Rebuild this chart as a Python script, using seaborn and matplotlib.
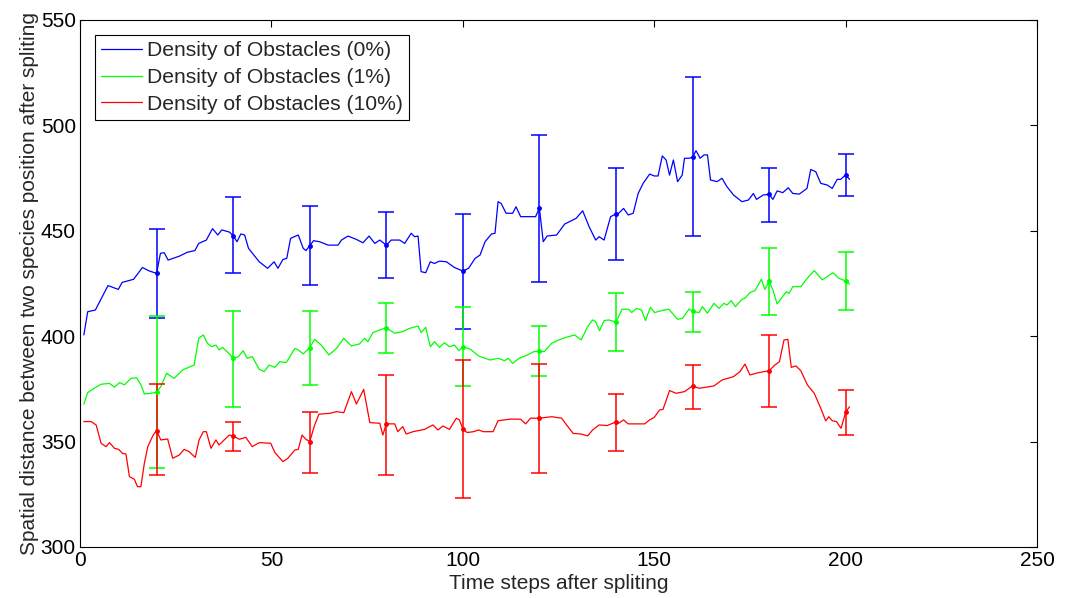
import pandas as pd
import matplotlib
matplotlib.use("Agg")
import matplotlib.pyplot as plt
import seaborn as sns

# --- curves (time step, distance) ---
x_0 = [1, 2, 4, 7.3, 10, 11, 14, 16.3, 18, 20,
       21, 22, 23, 26, 28, 30, 31, 33, 34.6, 36,
       37, 39, 40, 41, 42, 43, 44, 46.8, 49, 50.7,
       51.7, 53, 54, 55, 56, 57, 58.3, 59, 60, 61,
       62.6, 64.8, 67.4, 68.3, 70, 72.2, 73.9, 75.5, 77, 78.3,
       80, 81.3, 83.5, 84.8, 86.5, 87.4, 88.3, 89.1, 90.3, 91.5,
       92.6, 93.9, 95.7, 97.8, 100, 101.5, 103.2, 104.5, 105.8, 107.5,
       108.4, 109.2, 110, 111.3, 113, 113.9, 115.1, 119, 120, 121,
       122, 124.5, 126.6, 129.6, 131.3, 133, 134.7, 135.6, 136.9, 138.6,
       140, 140.7, 142, 143.2, 144.5, 145.8, 147.1, 148.8, 150, 151,
       152.1, 153.1, 154, 155, 156.1, 157.3, 157.9, 159.1, 160, 160.9,
       162, 163, 163.9, 164.7, 166.4, 167.7, 169, 170.7, 172.9, 174.6,
       175.9, 176.7, 178.5, 180, 181, 182.1, 183.6, 185, 186.2, 187.9,
       189.9, 190.9, 192.2, 193.5, 195.2, 196.5, 197.8, 198.7, 200, 201]
y_0 = [400.6, 411.6, 412.4, 424.0, 422.2, 425.5, 427.0, 432.6, 431.0, 429.8,
       439.3, 439.6, 436.1, 438.0, 439.8, 440.6, 444.0, 445.6, 451.0, 448.0,
       450.4, 449.4, 447.7, 444.8, 448.5, 448.0, 441.7, 435.3, 432.2, 435.3,
       432.2, 436.4, 436.9, 446.4, 447.2, 448.0, 441.7, 440.6, 442.9, 445.3,
       444.8, 443.2, 443.2, 445.6, 447.5, 445.9, 444.3, 447.5, 444.0, 445.6,
       443.2, 445.6, 445.6, 444.0, 448.8, 447.2, 447.5, 430.6, 430.1, 435.3,
       434.5, 435.6, 435.3, 432.6, 430.9, 432.2, 436.9, 438.5, 444.8, 448.5,
       448.8, 463.8, 463.0, 458.3, 458.3, 461.4, 456.7, 456.7, 460.8, 444.8,
       447.5, 448.0, 453.2, 455.9, 459.5, 451.9, 445.6, 447.2, 445.6, 456.7,
       458.0, 458.3, 460.6, 457.5, 458.3, 467.7, 472.5, 476.9, 476.0, 476.0,
       485.5, 483.6, 476.4, 483.6, 473.3, 476.4, 484.4, 484.4, 484.8, 488.0,
       484.4, 486.0, 486.0, 474.1, 473.3, 474.9, 470.9, 467.0, 463.8, 464.6,
       467.7, 464.9, 467.0, 467.3, 464.9, 468.9, 468.1, 470.4, 467.7, 467.4,
       470.1, 479.1, 478.0, 472.5, 471.7, 470.1, 474.4, 474.4, 476.5, 474.4]

x_1 = [1, 2, 3.7, 5.5, 7.7, 9, 10.3, 11.6, 13.3, 14.8,
       15.9, 16.8, 18.5, 20, 21.1, 22.6, 24.6, 26.8, 29.8, 31,
       32.2, 33.3, 34.4, 35.5, 36.3, 37.2, 39, 40, 41.4, 42.6,
       43.7, 45, 46.8, 48.1, 49.4, 50.9, 52.2, 53.9, 56.1, 57,
       58.3, 60, 61.3, 63, 65, 67, 68.9, 70.9, 73, 74.3,
       75.2, 76.5, 78.3, 80, 82.2, 84.3, 86.1, 88.3, 89.1, 90.3,
       91.5, 92.6, 93.9, 95.2, 96.5, 97.8, 99, 100, 102, 104.1,
       107.1, 109.2, 110.9, 111.9, 113, 114.7, 116.9, 118.6, 120, 121.3,
       123.2, 125.4, 127.1, 129.2, 130.9, 132.6, 133.9, 134.7, 135.7, 136.9,
       138.1, 140, 141.6, 143.3, 144.1, 145.4, 146.7, 147.7, 149, 150.1,
       151.8, 153.8, 156.1, 157.4, 159.1, 160, 161.7, 162.6, 163.9, 165.6,
       166.9, 168.2, 169, 170.1, 171.2, 172.9, 173.7, 175, 176.3, 178,
       178.9, 180, 181, 182.1, 184.5, 185.2, 186.2, 188.3, 190, 191.8,
       193.9, 196.7, 198.2, 200, 201]
y_1 = [367.8, 373.2, 375.3, 377.2, 377.6, 375.8, 378.0, 376.9, 380.0, 380.3,
       376.9, 372.6, 372.9, 373.4, 376.1, 382.4, 380.0, 384.0, 386.3, 399.0,
       400.6, 396.6, 395.0, 395.8, 393.5, 394.7, 391.6, 389.5, 390.3, 393.1,
       389.5, 390.3, 384.3, 383.2, 386.3, 385.2, 387.9, 387.5, 394.2, 393.5,
       391.6, 394.6, 398.5, 395.8, 391.1, 394.2, 399.0, 395.4, 396.3, 399.0,
       397.4, 401.7, 403.0, 403.9, 401.4, 402.2, 403.7, 404.8, 401.7, 404.2,
       395.0, 397.4, 394.7, 396.9, 395.0, 395.8, 393.1, 395.0, 393.8, 390.6,
       388.7, 389.5, 388.4, 389.5, 387.1, 389.5, 391.1, 392.7, 392.8, 392.7,
       396.6, 398.5, 399.5, 400.6, 398.2, 404.5, 407.7, 406.9, 402.6, 407.4,
       407.7, 406.7, 412.8, 412.8, 411.2, 413.2, 412.4, 407.4, 413.7, 411.2,
       412.1, 412.8, 408.0, 408.5, 412.9, 411.8, 411.2, 414.0, 410.9, 415.6,
       413.2, 415.6, 414.8, 416.9, 414.0, 417.5, 418.0, 420.7, 421.6, 427.0,
       422.2, 426.0, 421.9, 415.3, 421.1, 420.3, 423.5, 423.5, 427.5, 431.1,
       426.7, 430.1, 427.5, 426.2, 424.7]

x_10 = [1, 2.9, 4.2, 5.5, 6.8, 7.7, 9, 10.1, 11.1, 12,
        12.9, 14.2, 15, 15.9, 16.8, 17.7, 19.1, 20, 21.1, 22.9,
        24.2, 25.9, 27.2, 28.5, 30.1, 31.1, 32.2, 33, 34.2, 35.5,
        36.3, 37.7, 39, 40, 41.6, 43.3, 45, 46.8, 49.8, 50.9,
        53, 54.3, 56.1, 57, 58, 59, 60, 61.3, 62.4, 65.2,
        67, 68.9, 70.9, 72.2, 74.1, 75.7, 78.3, 79.1, 80, 82.2,
        83, 84.3, 85.2, 87, 90, 92.2, 93.5, 94.8, 96.5, 98.3,
        99.1, 100, 101.1, 102.8, 104.1, 105.4, 107.9, 109.2, 112.6, 115.1,
        116.4, 117.7, 120, 123.2, 125.8, 127.1, 128.8, 130.9, 132.6, 133.9,
        135.6, 137.7, 139.7, 140.7, 142, 143.2, 147.5, 148.8, 150, 151.4,
        152.3, 154, 155.7, 157.9, 160, 161.7, 165.6, 167.7, 170.7, 172.4,
        173.7, 175, 177.2, 180, 181.5, 182.7, 183.9, 184.9, 185.8, 187,
        188.3, 190, 191.8, 193.5, 194.8, 195.6, 196.5, 197.6, 198.8, 200,
        201]
y_10 = [359.5, 359.5, 357.9, 349.2, 347.6, 349.5, 346.8, 346.3, 344.4, 344.1,
        333.4, 332.1, 328.6, 328.6, 339.7, 347.6, 353.1, 355.2, 350.8, 351.2,
        342.1, 343.6, 346.3, 345.2, 342.5, 350.8, 354.7, 354.7, 346.8, 350.8,
        348.4, 350.8, 353.1, 352.7, 351.1, 352.0, 347.6, 349.5, 349.2, 344.8,
        340.5, 342.1, 346.0, 346.3, 353.1, 351.1, 350.0, 357.9, 363.0, 363.4,
        364.2, 363.7, 373.7, 367.8, 374.8, 359.0, 358.7, 353.1, 358.4, 358.4,
        354.7, 357.1, 353.6, 354.7, 355.8, 357.9, 355.5, 357.4, 355.8, 361.1,
        360.3, 356.0, 354.3, 354.7, 355.5, 354.7, 354.7, 359.9, 360.7, 360.6,
        358.4, 361.1, 361.1, 361.8, 361.1, 357.9, 353.9, 353.6, 352.7, 355.5,
        357.9, 357.6, 359.1, 358.7, 360.3, 358.4, 358.4, 360.3, 361.5, 365.0,
        365.3, 374.2, 372.9, 373.7, 376.4, 375.3, 376.4, 379.2, 380.8, 383.2,
        386.8, 381.6, 382.7, 383.6, 386.3, 387.9, 398.2, 398.5, 385.2, 385.9,
        383.6, 376.9, 372.9, 365.8, 359.8, 361.8, 359.9, 359.5, 356.3, 363.9,
        366.5]

# --- error bars every 20 steps: mean, upper and lower end ---
err_x = [20, 40, 60, 80, 100, 120, 140, 160, 180, 200]
mean_0 = [429.8, 447.7, 442.9, 443.3, 430.9, 460.8, 458.0, 484.9, 467.3, 476.5]
top_0 = [450.9, 466.2, 461.8, 458.9, 458.0, 495.3, 479.6, 522.8, 480.0, 486.6]
bot_0 = [408.5, 429.8, 424.1, 427.5, 403.4, 425.7, 436.1, 447.5, 454.2, 466.4]
mean_1 = [373.4, 389.5, 394.6, 403.9, 395.0, 392.8, 406.7, 411.8, 426.0, 426.2]
top_1 = [409.7, 412.1, 412.1, 415.9, 413.7, 404.7, 420.5, 420.8, 441.7, 439.9]
bot_1 = [337.3, 366.6, 377.0, 391.9, 376.2, 381.3, 392.8, 402.1, 409.9, 412.4]
mean_10 = [355.2, 352.7, 350.0, 358.3, 356.0, 361.0, 359.1, 376.2, 383.6, 363.9]
top_10 = [377.1, 359.4, 364.0, 381.6, 388.7, 386.8, 372.4, 386.3, 400.6, 374.4]
bot_10 = [334.2, 345.7, 335.1, 334.0, 323.1, 335.1, 345.7, 365.6, 366.6, 353.1]

labels = ["Density of Obstacles (0%)", "Density of Obstacles (1%)",
          "Density of Obstacles (10%)"]
colores = ["#0000ff", "#00ff00", "#ff0000"]

# --- estilo tipo MATLAB ---
sns.set_style("white")
plt.rcParams["font.family"] = ["Liberation Sans", "DejaVu Sans"]

fig = plt.figure(figsize=(10.7, 5.98), dpi=100)
ax = fig.add_axes([0.0748, 0.0853, 0.8944, 0.8813])

curvas = [(x_0, y_0), (x_1, y_1), (x_10, y_10)]
for (xs, ys), lab, col in zip(curvas, labels, colores):
    df = pd.DataFrame({"t": xs, "d": ys})
    sns.lineplot(data=df, x="t", y="d", ax=ax, color=col, linewidth=0.9,
                 label=lab, estimator=None, sort=False)

barras = [(mean_0, top_0, bot_0), (mean_1, top_1, bot_1),
          (mean_10, top_10, bot_10)]
for (m, t, b), col in zip(barras, colores):
    yerr = [[mi - bi for mi, bi in zip(m, b)], [ti - mi for ti, mi in zip(t, m)]]
    ax.errorbar(err_x, m, yerr=yerr, fmt=".", color=col, ecolor=col,
                elinewidth=1.1, capsize=5.5, capthick=1.1, markersize=5)

ax.set_xlim(0, 250)
ax.set_ylim(300, 550)
ax.set_xticks([0, 50, 100, 150, 200, 250])
ax.set_yticks([300, 350, 400, 450, 500, 550])
ax.tick_params(direction="in", length=5, width=0.8, labelsize=15,
               top=True, right=True, colors="black", pad=3)
for s in ax.spines.values():
    s.set_edgecolor("black")
    s.set_linewidth(0.8)

ax.set_xlabel("Time steps after spliting", fontsize=15, labelpad=3)
ax.set_ylabel("Spatial distance between two species position after spliting",
              fontsize=15, labelpad=1)

leg = ax.legend(loc="upper left", bbox_to_anchor=(0.0157, 0.9715),
                borderaxespad=0, fontsize=15.2, frameon=True, fancybox=False,
                edgecolor="black", framealpha=1, handlelength=1.9,
                handletextpad=0.25, labelspacing=0.36, borderpad=0.3)
leg.get_frame().set_linewidth(0.8)

plt.savefig("out.png", dpi=100)
